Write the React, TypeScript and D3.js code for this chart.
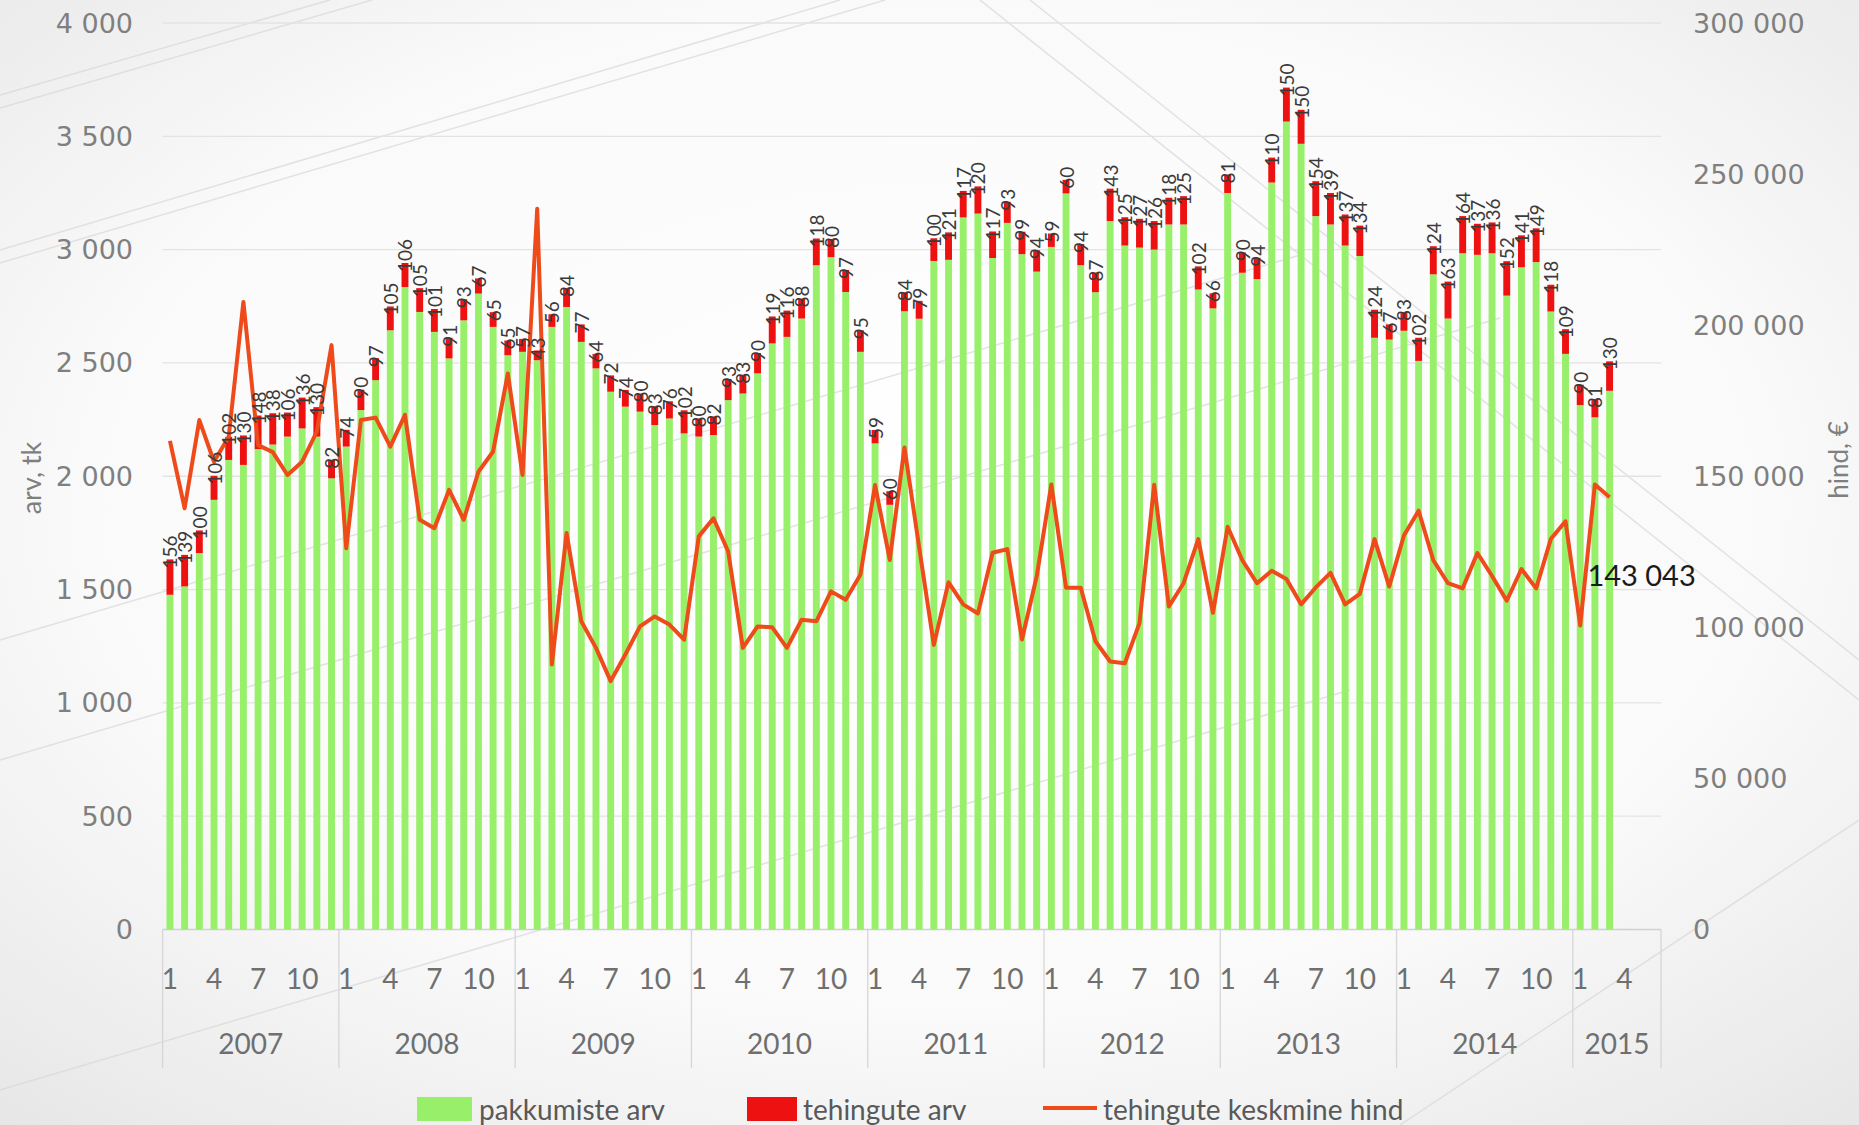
import React from "react";
import * as d3 from "d3";

// ---------- DATA ----------
const years = [2007, 2008, 2009, 2010, 2011, 2012, 2013, 2014, 2015];
const monthsInYear = [12, 12, 12, 12, 12, 12, 12, 12, 6];
const monthTickLabels = [1, 4, 7, 10];

// pakkumiste arv (offers), monthly from 2007-01 to 2015-03
const offers = [
  1477, 1514, 1661, 1896, 2072, 2050, 2120, 2140, 2175, 2211, 2175, 1991,
  2131, 2292, 2424, 2644, 2835, 2725, 2637, 2520, 2688, 2806, 2659, 2534,
  2549, 2512, 2659, 2747, 2593, 2476, 2373, 2307, 2285, 2226, 2255, 2189,
  2175, 2182, 2336, 2365, 2454, 2586, 2615, 2696, 2931, 2967, 2813, 2549,
  2145, 1874, 2728, 2695, 2950, 2955, 3142, 3159, 2963, 3118, 2980, 2903,
  3012, 3248, 2931, 2812, 3126, 3018, 3009, 3000, 3111, 3111, 2824, 2741,
  3250, 2898, 2870, 3296, 3565, 3467, 3148, 3111, 3018, 2972, 2611, 2603,
  2642, 2509, 2891, 2696, 2984, 2977, 2984, 2797, 2922, 2945, 2727, 2540,
  2314, 2260, 2377,
];

// tehingute arv (transactions)
const deals = [
  156, 139, 100, 106, 102, 130, 148, 138, 106, 136, 130, 82,
  74, 90, 97, 105, 106, 105, 101, 91, 93, 67, 65, 65,
  57, 43, 56, 84, 77, 64, 72, 74, 80, 83, 76, 102,
  80, 82, 93, 83, 90, 119, 116, 88, 118, 80, 97, 95,
  59, 60, 84, 79, 100, 121, 117, 120, 117, 93, 99, 94,
  59, 60, 94, 87, 143, 125, 127, 126, 118, 125, 102, 66,
  81, 90, 94, 110, 150, 150, 154, 139, 137, 134, 124, 67,
  83, 102, 124, 163, 164, 137, 136, 152, 141, 149, 118, 109,
  90, 81, 130,
];

// tehingute keskmine hind (average price, €)
const avgPrice = [
  161700, 139400, 168600, 154800, 163100, 207700, 160300, 158000, 150400, 154800, 164800, 193400,
  126200, 168600, 169400, 159800, 170300, 135600, 132800, 145500, 135600, 151500, 158200, 184000,
  150400, 238500, 87700, 131200, 102000, 93200, 82200, 91000, 100300, 103600, 100900, 95900,
  130100, 136100, 125100, 93200, 100300, 100000, 93200, 102500, 102000, 111900, 109100, 117400,
  147100, 122300, 159500, 126500, 94200, 114900, 107600, 104600, 124700, 125900, 96000, 116800,
  147300, 113100, 113100, 95400, 88700, 88100, 101400, 147200, 106900, 114600, 129200, 104800,
  133300, 122200, 114600, 118700, 116000, 107600, 113200, 118000, 107600, 111100, 129200, 113500,
  130400, 138600, 122200, 114600, 112900, 124600, 117000, 108800, 119300, 112900, 129200, 135100,
  100600, 147300, 143043,
];

const leftTicks = [0, 500, 1000, 1500, 2000, 2500, 3000, 3500, 4000];
const rightTicks = [0, 50000, 100000, 150000, 200000, 250000, 300000];

const legendItems = ["pakkumiste arv", "tehingute arv", "tehingute keskmine hind"];
const leftTitle = "arv, tk";
const rightTitle = "hind, €";

// ---------- STYLE ----------
const W = 1859;
const H = 1125;
const plotLeft = 162.6;
const plotRight = 1661;
const yTop = 23;
const yBase = 929.5;
const GREEN = "#98EF6A";
const RED = "#EE1111";
const LINE = "#EE4A1A";
const labelFont = "Lato, 'Open Sans', sans-serif";
const axisFont = "'DejaVu Sans', Verdana, sans-serif";

const locale = d3.formatLocale({
  decimal: ",",
  thousands: "\u00a0",
  grouping: [3],
  currency: ["", " €"],
});
const fmt = locale.format(",d");

type Cat = { key: string; year: number; month: number; yearIndex: number };

export default function App() {
  const cats: Cat[] = [];
  years.forEach((y, yi) => {
    for (let m = 1; m <= monthsInYear[yi]; m++) {
      cats.push({ key: `${y}-${m}`, year: y, month: m, yearIndex: yi });
    }
  });

  const x = d3
    .scaleBand<string>()
    .domain(cats.map((c) => c.key))
    .range([plotLeft, plotRight])
    .paddingInner(0)
    .paddingOuter(0);
  const step = x.step();
  const barW = step * 0.47;
  const cx = (i: number) => (x(cats[i].key) as number) + step / 2;

  const yL = d3.scaleLinear().domain([0, 4000]).range([yBase, yTop]);
  const yR = d3.scaleLinear().domain([0, 300000]).range([yBase, yTop]);

  const lineGen = d3
    .line<number>()
    .x((_, i) => cx(i))
    .y((d) => yR(d));

  const yearStarts: number[] = [];
  let acc = 0;
  monthsInYear.forEach((n) => {
    yearStarts.push(acc);
    acc += n;
  });

  const lastIdx = avgPrice.length - 1;
  const lastX = cx(lastIdx);
  const lastY = yR(avgPrice[lastIdx]);

  const deco: [number, number, number, number][] = [
    [0, 95, 330, 0],
    [0, 108, 372, 0],
    [0, 250, 840, 0],
    [0, 263, 885, 0],
    [0, 640, 1300, 255],
    [0, 760, 1500, 318],
    [0, 1090, 1350, 690],
    [980, 0, 1859, 700],
    [1030, 0, 1859, 660],
    [1400, 1125, 1859, 820],
  ];

  return (
    <svg
      width={W}
      height={H}
      style={{ position: "absolute", left: 0, top: 0, display: "block" }}
      xmlns="http://www.w3.org/2000/svg"
    >
      <defs>
        <radialGradient id="bg" cx="50%" cy="45%" r="75%">
          <stop offset="0%" stopColor="#ffffff" />
          <stop offset="60%" stopColor="#fafafa" />
          <stop offset="100%" stopColor="#e6e6e6" />
        </radialGradient>
      </defs>
      <rect x={0} y={0} width={W} height={H} fill="url(#bg)" />
      {deco.map((d, i) => (
        <line
          key={`deco${i}`}
          x1={d[0]}
          y1={d[1]}
          x2={d[2]}
          y2={d[3]}
          stroke="#d8d8d8"
          strokeWidth={1.5}
          opacity={0.7}
        />
      ))}

      {leftTicks.map((t) => (
        <line
          key={`g${t}`}
          x1={plotLeft}
          x2={plotRight}
          y1={yL(t)}
          y2={yL(t)}
          stroke={t === 0 ? "#d0d0d0" : "#e3e3e3"}
          strokeWidth={1.3}
        />
      ))}

      {leftTicks.map((t) => (
        <text
          key={`lt${t}`}
          x={133}
          y={yL(t)}
          textAnchor="end"
          dominantBaseline="central"
          fontFamily={axisFont}
          fontSize={27}
          fill="#7f7f7f"
        >
          {fmt(t)}
        </text>
      ))}
      {rightTicks.map((t) => (
        <text
          key={`rt${t}`}
          x={1693}
          y={yR(t)}
          textAnchor="start"
          dominantBaseline="central"
          fontFamily={axisFont}
          fontSize={27}
          fill="#7f7f7f"
        >
          {fmt(t)}
        </text>
      ))}

      <text
        transform={`translate(30,${478}) rotate(-90)`}
        textAnchor="middle"
        dominantBaseline="central"
        fontFamily={labelFont}
        fontSize={27}
        fill="#7f7f7f"
      >
        {leftTitle}
      </text>
      <text
        transform={`translate(1838,${460}) rotate(-90)`}
        textAnchor="middle"
        dominantBaseline="central"
        fontFamily={labelFont}
        fontSize={26}
        fill="#7f7f7f"
      >
        {rightTitle}
      </text>

      {offers.map((v, i) => (
        <rect
          key={`o${i}`}
          x={cx(i) - barW / 2}
          y={yL(v)}
          width={barW}
          height={yBase - yL(v)}
          fill={GREEN}
        />
      ))}
      {deals.map((v, i) => (
        <rect
          key={`d${i}`}
          x={cx(i) - barW / 2}
          y={yL(offers[i] + v)}
          width={barW}
          height={yL(offers[i]) - yL(offers[i] + v)}
          fill={RED}
        />
      ))}

      <path
        d={lineGen(avgPrice) || ""}
        fill="none"
        stroke={LINE}
        strokeWidth={4}
        strokeLinejoin="round"
      />

      {deals.map((v, i) => (
        <text
          key={`dl${i}`}
          transform={`translate(${cx(i)},${yL(offers[i] + v) + 9}) rotate(-90)`}
          textAnchor="start"
          dominantBaseline="central"
          fontFamily={labelFont}
          fontSize={19}
          fill="#3a3a3a"
        >
          {v}
        </text>
      ))}

      <text
        x={lastX + 32}
        y={lastY + 77}
        textAnchor="middle"
        dominantBaseline="central"
        fontFamily={labelFont}
        fontSize={29}
        fill="#1a1a1a"
      >
        {fmt(avgPrice[lastIdx])}
      </text>

      {yearStarts.concat([cats.length]).map((s, i) => {
        const xs = plotLeft + s * step;
        return (
          <line
            key={`sep${i}`}
            x1={xs}
            x2={xs}
            y1={yBase}
            y2={1068}
            stroke="#d6d6d6"
            strokeWidth={1.3}
          />
        );
      })}
      {cats.map((c, i) =>
        monthTickLabels.includes(c.month) ? (
          <text
            key={`m${i}`}
            x={cx(i)}
            y={978}
            textAnchor="middle"
            dominantBaseline="central"
            fontFamily={labelFont}
            fontSize={28}
            fill="#6f6f6f"
          >
            {c.month}
          </text>
        ) : null
      )}
      {years.map((y, yi) => {
        const x0 = plotLeft + yearStarts[yi] * step;
        const x1 = x0 + monthsInYear[yi] * step;
        return (
          <text
            key={`y${y}`}
            x={(x0 + x1) / 2}
            y={1043}
            textAnchor="middle"
            dominantBaseline="central"
            fontFamily={labelFont}
            fontSize={28}
            fill="#6f6f6f"
          >
            {y}
          </text>
        );
      })}

      <rect x={417} y={1097} width={55} height={24} fill={GREEN} />
      <text x={479} y={1109} dominantBaseline="central" fontFamily={labelFont} fontSize={28} fill="#595959">
        {legendItems[0]}
      </text>
      <rect x={747} y={1097} width={50} height={24} fill={RED} />
      <text x={803} y={1109} dominantBaseline="central" fontFamily={labelFont} fontSize={28} fill="#595959">
        {legendItems[1]}
      </text>
      <line x1={1043} x2={1097} y1={1108} y2={1108} stroke={LINE} strokeWidth={4} />
      <text x={1103} y={1109} dominantBaseline="central" fontFamily={labelFont} fontSize={28} fill="#595959">
        {legendItems[2]}
      </text>
    </svg>
  );
}
